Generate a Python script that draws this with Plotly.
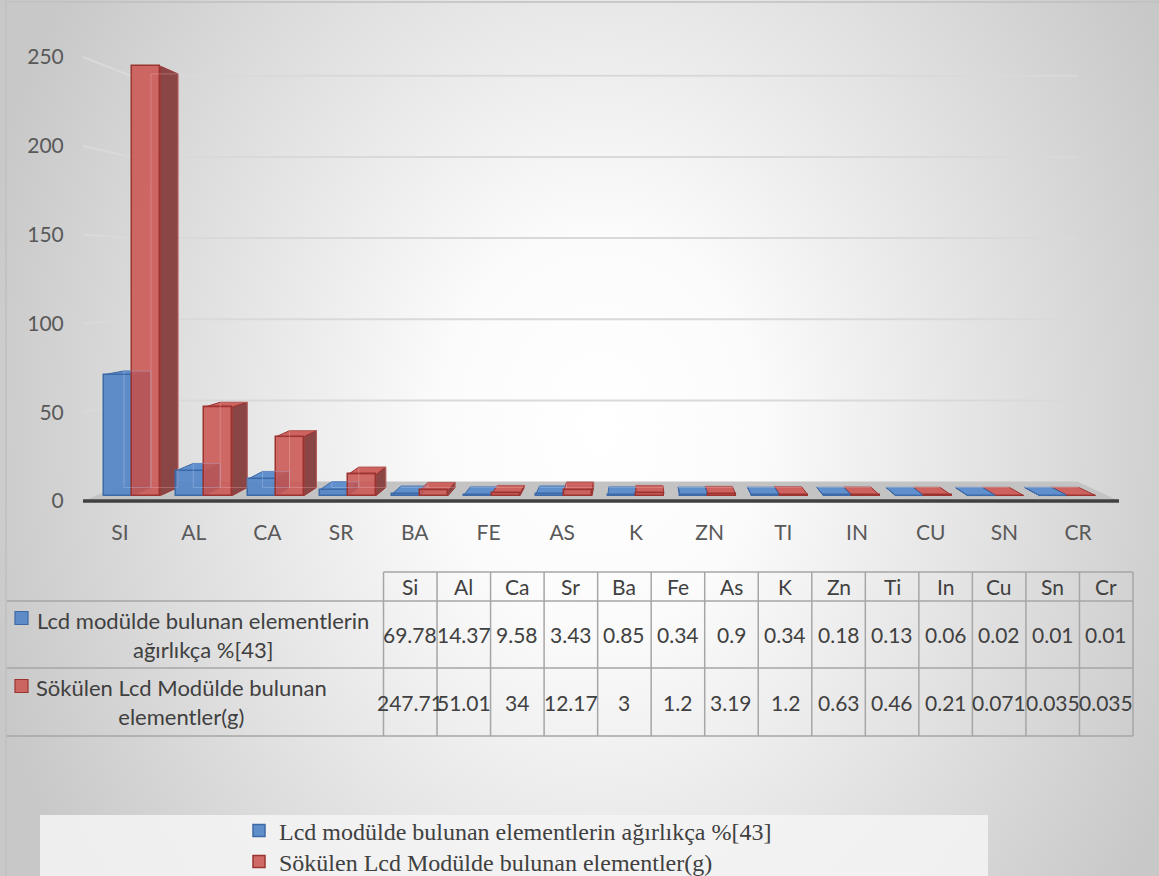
import base64
import plotly.graph_objects as go

# ---- data -------------------------------------------------------------
elements = ["Si", "Al", "Ca", "Sr", "Ba", "Fe", "As", "K", "Zn", "Ti", "In", "Cu", "Sn", "Cr"]
axis_labels = ["SI", "AL", "CA", "SR", "BA", "FE", "AS", "K", "ZN", "TI", "IN", "CU", "SN", "CR"]
weight_pct = [69.78, 14.37, 9.58, 3.43, 0.85, 0.34, 0.9, 0.34, 0.18, 0.13, 0.06, 0.02, 0.01, 0.01]
removed_g = [247.71, 51.01, 34, 12.17, 3, 1.2, 3.19, 1.2, 0.63, 0.46, 0.21, 0.071, 0.035, 0.035]
series_names = [
    "Lcd modülde bulunan elementlerin ağırlıkça %[43]",
    "Sökülen Lcd Modülde bulunan elementler(g)",
]
row_labels = [
    "Lcd modülde bulunan elementlerin<br>ağırlıkça %[43]",
    "Sökülen Lcd Modülde bulunan<br>elementler(g)",
]
y_ticks = [0, 50, 100, 150, 200, 250]

# ---- page geometry ------------------------------------------------------
W, H = 1159, 876
ML, MR, MT, MB = 83, 40, 40, 366
PW, PH = W - ML - MR, H - MT - MB
X_RANGE = [-0.502, 13.555]
Y_RANGE = [-5.068, 259.58]


def px_x(p):
    return (p - ML) / PW


def px_y(p):
    return (H - MB - p) / PH


# ---- simple one-point perspective in data space ------------------------
VX, VY = 7.0, 127.3          # vanishing point (category units, value units)
Z_FRONT, Z_BACK, Z_WALL = 0.024, 0.06, 0.086
BAR_W = 0.39


def proj(x, y, z):
    return x + z * (VX - x), y + z * (VY - y)


def path_of(pts):
    return "M " + " L ".join(f"{x:.5f},{y:.5f}" for x, y in pts) + " Z"


styles = [
    dict(front="rgba(84,134,199,0.92)", edge="#3d69a6", side="#3e5f8e", top="#5f8fcc",
         inner="rgba(200,220,250,0.3)"),
    dict(front="rgba(201,86,83,0.88)", edge="#9b3431", side="#8a4545", top="#cd625f",
         inner="rgba(250,200,200,0.3)"),
]
series_values = [weight_pct, removed_g]

shapes = []

# floor of the 3-D plot area
xl_wall, xr_wall = X_RANGE
floor = [proj(xl_wall, 0, 0), proj(xr_wall, 0, 0), proj(xr_wall, 0, Z_WALL), proj(xl_wall, 0, Z_WALL)]
shapes.append(dict(type="path", path=path_of(floor), xref="x", yref="y",
                   fillcolor="#c3c3c3", line=dict(width=0), layer="below"))

# gridlines running along the side wall and the back wall
for v in y_ticks[1:]:
    a = proj(xl_wall, v, 0)
    b = proj(xl_wall, v, Z_WALL)
    c = proj(xr_wall, v, Z_WALL)
    shapes.append(dict(type="path", path=f"M {a[0]},{a[1]} L {b[0]},{b[1]} L {c[0]},{c[1]}",
                       xref="x", yref="y", line=dict(color="#d9d9d9", width=2), layer="below"))

# dark front edge of the floor
shapes.append(dict(type="line", xref="x", yref="y", x0=xl_wall, x1=xr_wall, y0=0, y1=0,
                   line=dict(color="#404040", width=3.5), layer="below"))

# side and top faces of every column, painted from the outside in
bars = []
for s, vals in enumerate(series_values):
    for i, v in enumerate(vals):
        xl = i + (s - 1) * BAR_W
        bars.append((s, i, xl, xl + BAR_W, v))
bars.sort(key=lambda b: -abs((b[2] + b[3]) / 2 - VX))

inner_shapes = []
for s, i, xl, xr, v in bars:
    st = styles[s]
    if v < VY:
        top = [proj(xl, v, Z_FRONT), proj(xr, v, Z_FRONT), proj(xr, v, Z_BACK), proj(xl, v, Z_BACK)]
        shapes.append(dict(type="path", path=path_of(top), xref="x", yref="y",
                           fillcolor=st["top"], line=dict(color=st["edge"], width=1), layer="below"))
    side_x = xr if xr < VX else (xl if xl > VX else None)
    if side_x is not None:
        side = [proj(side_x, v, Z_FRONT), proj(side_x, v, Z_BACK),
                proj(side_x, 0, Z_BACK), proj(side_x, 0, Z_FRONT)]
        shapes.append(dict(type="path", path=path_of(side), xref="x", yref="y",
                           fillcolor=st["side"], line=dict(color=st["edge"], width=1), layer="below"))
    # back edges seen through the translucent front face
    back = [proj(xl, v, Z_BACK), proj(xr, v, Z_BACK), proj(xr, 0, Z_BACK), proj(xl, 0, Z_BACK)]
    inner_shapes.append(dict(type="path", path=path_of(back), xref="x", yref="y",
                             line=dict(color=st["inner"], width=1), layer="above"))

shapes.extend(inner_shapes)

# ---- front faces as bar traces ------------------------------------------
fig = go.Figure()
for s, vals in enumerate(series_values):
    centers, widths, bases, lengths = [], [], [], []
    for i, v in enumerate(vals):
        xl = i + (s - 1) * BAR_W
        fl = proj(xl, v, Z_FRONT)[0]
        fr = proj(xl + BAR_W, v, Z_FRONT)[0]
        b = proj(xl, 0, Z_FRONT)[1]
        t = proj(xl, v, Z_FRONT)[1]
        centers.append((fl + fr) / 2)
        widths.append(fr - fl)
        bases.append(b)
        lengths.append(t - b)
    fig.add_trace(go.Bar(
        x=centers, y=lengths, base=bases, width=widths,
        name=series_names[s], customdata=vals, text=axis_labels,
        hovertemplate="%{text}: %{customdata}<extra></extra>",
        textposition="none", legend="legend" if s == 0 else "legend2",
        marker=dict(color=styles[s]["front"], line=dict(color=styles[s]["edge"], width=1.5)),
    ))

# ---- data table under the chart -----------------------------------------
T_LEFT, T_COL0, T_RIGHT = 7, 383.5, 1133
col_w = (T_RIGHT - T_COL0) / len(elements)
row_y = [572, 601, 668, 736]
grid_col = "#a6a6a6"


def pline(x0, y0, x1, y1):
    shapes.append(dict(type="line", xref="paper", yref="paper",
                       x0=px_x(x0), y0=px_y(y0), x1=px_x(x1), y1=px_y(y1),
                       line=dict(color=grid_col, width=1.5), layer="below"))


pline(T_COL0, row_y[0], T_RIGHT, row_y[0])
for yy in row_y[1:]:
    pline(T_LEFT, yy, T_RIGHT, yy)
for k in range(len(elements) + 1):
    xx = T_COL0 + k * col_w
    pline(xx, row_y[0], xx, row_y[3])

annotations = []
tfont = dict(family="Lato", size=21, color="#404040")
lfont = dict(family="Lato", size=22, color="#404040")
for k, el in enumerate(elements):
    cx = px_x(T_COL0 + (k + 0.5) * col_w)
    annotations.append(dict(text=el, x=cx, y=px_y((row_y[0] + row_y[1]) / 2), xref="paper", yref="paper",
                            showarrow=False, font=tfont, xanchor="center", yanchor="middle"))
    for r, vals in enumerate(series_values):
        annotations.append(dict(text=f"{vals[k]:g}", x=cx, y=px_y((row_y[r + 1] + row_y[r + 2]) / 2),
                                xref="paper", yref="paper", showarrow=False, font=tfont,
                                xanchor="center", yanchor="middle"))

label_cx = [203, 181]
key_y = [618, 686]
for r in range(2):
    annotations.append(dict(text=row_labels[r], x=px_x(label_cx[r]),
                            y=px_y((row_y[r + 1] + row_y[r + 2]) / 2), xref="paper", yref="paper",
                            showarrow=False, font=lfont, align="center",
                            xanchor="center", yanchor="middle"))
    shapes.append(dict(type="rect", xref="paper", yref="paper",
                       x0=px_x(15), x1=px_x(28), y0=px_y(key_y[r] - 6.5), y1=px_y(key_y[r] + 6.5),
                       fillcolor=styles[r]["front"], line=dict(color=styles[r]["edge"], width=1.2)))

# legend panel and chart border
shapes.append(dict(type="rect", xref="paper", yref="paper",
                   x0=px_x(40), x1=px_x(988), y0=px_y(815), y1=px_y(H + 10),
                   fillcolor="rgba(244,244,244,0.85)", line=dict(width=0), layer="below"))
shapes.append(dict(type="rect", xref="paper", yref="paper",
                   x0=px_x(6), x1=px_x(W + 20), y0=px_y(2), y1=px_y(H + 20),
                   fillcolor="rgba(0,0,0,0)", line=dict(color="#c0c0c0", width=1.5), layer="below"))

# ---- radial backdrop ------------------------------------------------------
svg = (
    f'<svg xmlns="http://www.w3.org/2000/svg" width="{W}" height="{H}" viewBox="0 0 {W} {H}">'
    '<defs><radialGradient id="g" gradientUnits="userSpaceOnUse" cx="600" cy="430" r="640" '
    'gradientTransform="translate(600 430) scale(1 1.25) translate(-600 -430)">'
    '<stop offset="0" stop-color="#ffffff"/><stop offset="0.25" stop-color="#fbfbfb"/>'
    '<stop offset="1" stop-color="#c8c8c8"/></radialGradient></defs>'
    f'<rect width="{W}" height="{H}" fill="url(#g)"/></svg>'
)
bg_src = "data:image/svg+xml;base64," + base64.b64encode(svg.encode()).decode()

legend_common = dict(orientation="v", xref="container", yref="container",
                     x=239 / W, xanchor="left", yanchor="middle",
                     bgcolor="rgba(0,0,0,0)",
                     font=dict(family="Liberation Serif", size=24, color="#404040"),
                     itemclick=False, itemdoubleclick=False)

fig.update_layout(
    width=W, height=H,
    margin=dict(l=ML, r=MR, t=MT, b=MB, autoexpand=False),
    paper_bgcolor="#d0d0d0", plot_bgcolor="rgba(0,0,0,0)",
    barmode="overlay", bargap=0,
    showlegend=True,
    legend=dict(legend_common, y=1 - 831 / H),
    legend2=dict(legend_common, y=1 - 862 / H),
    xaxis=dict(range=X_RANGE, tickvals=list(range(len(axis_labels))), ticktext=axis_labels,
               showgrid=False, zeroline=False, showline=False,
               ticks="outside", ticklen=4, tickcolor="rgba(0,0,0,0)",
               tickfont=dict(family="Lato", size=21, color="#595959"), fixedrange=True),
    yaxis=dict(range=Y_RANGE, tickvals=y_ticks, showgrid=False, zeroline=False, showline=False,
               ticks="outside", ticklen=14, tickcolor="rgba(0,0,0,0)",
               tickfont=dict(family="Lato", size=21, color="#595959"), fixedrange=True),
    shapes=shapes,
    annotations=annotations,
    images=[dict(source=bg_src, xref="paper", yref="paper", x=px_x(0), y=px_y(0),
                 sizex=W / PW, sizey=H / PH, xanchor="left", yanchor="top",
                 sizing="stretch", layer="below")],
    font=dict(family="Lato"),
)

fig.write_html("out.html")
